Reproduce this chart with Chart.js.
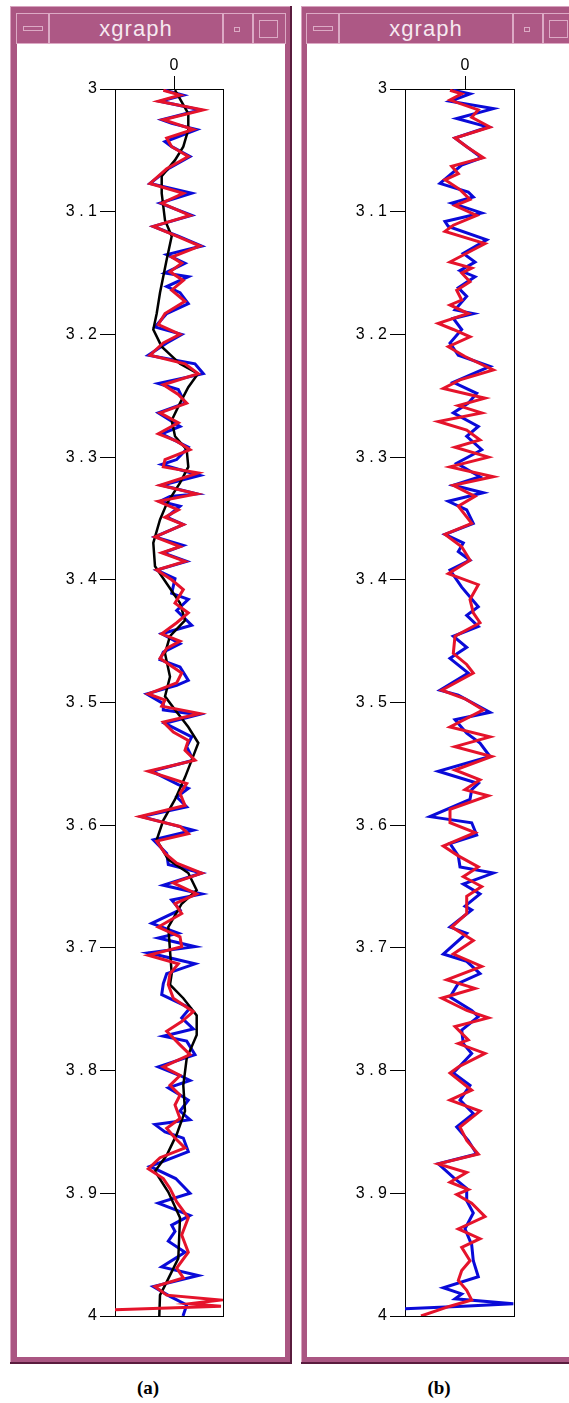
<!DOCTYPE html>
<html>
<head>
<meta charset="utf-8">
<script src="https://cdn.jsdelivr.net/npm/chart.js@4.4.1/dist/chart.umd.min.js"></script>
<style>
    body { margin: 0; background: #fff; width: 569px; height: 1403px; position: relative; overflow: hidden; }
    .win { position: absolute; top: 6px; height: 1358px; background: #aa5682; box-shadow: inset -2px -2px 0 #5a1c3e, inset 1px 1px 0 #d7a2be; }
    .tb { position: absolute; top: 7px; height: 31px; box-sizing: border-box; border: 1px solid #dcaac5; background: #ad5885; }
    .title { color: #f6e8f0; font: 22px "Liberation Sans", Arial, sans-serif; letter-spacing: 1px; text-align: center; line-height: 30px; }
    .minus { position: absolute; left: 6px; top: 12px; width: 20px; height: 5px; box-sizing: border-box; border: 1px solid #dcaac5; }
    .dot { position: absolute; left: 10px; top: 13px; width: 6px; height: 5px; box-sizing: border-box; border: 1px solid #dcaac5; }
    .sq { position: absolute; left: 5px; top: 6px; width: 19px; height: 18px; box-sizing: border-box; border: 1px solid #dcaac5; }
    .client { position: absolute; top: 38px; height: 1313px; background: #fff; }
    .cap { position: absolute; top: 1377px; width: 60px; text-align: center; font: bold 19px "Liberation Serif", "Times New Roman", serif; }
</style>
</head>
<body>
<div class="win" style="left:10px;width:282px">
    <div class="tb" style="left:6px;width:33px"><div class="minus"></div></div>
    <div class="tb title" style="left:39px;width:174px">xgraph</div>
    <div class="tb" style="left:213px;width:30px"><div class="dot"></div></div>
    <div class="tb" style="left:243px;width:33px"><div class="sq"></div></div>
    <div class="client" style="left:7px;width:268px"><canvas id="chartA" width="268" height="1313"></canvas></div>
</div>
<div class="win" style="left:301px;width:300px">
    <div class="tb" style="left:5px;width:33px"><div class="minus"></div></div>
    <div class="tb title" style="left:38px;width:174px">xgraph</div>
    <div class="tb" style="left:212px;width:30px"><div class="dot"></div></div>
    <div class="tb" style="left:242px;width:33px"><div class="sq"></div></div>
    <div class="client" style="left:6px;width:262px"><canvas id="chartB" width="262" height="1313"></canvas></div>
</div>
<div class="cap" style="left:118px">(a)</div>
<div class="cap" style="left:409px">(b)</div>

<script>
// axis ticks
const yTickValues = [3, 3.1, 3.2, 3.3, 3.4, 3.5, 3.6, 3.7, 3.8, 3.9, 4];
const yTickLabels = ['3', '3.1', '3.2', '3.3', '3.4', '3.5', '3.6', '3.7', '3.8', '3.9', '4'];
const xTickValues = [0];
const xTickLabels = ['0'];

// panel (a): blue trace
const aBlueDepth = [3.001, 3.005, 3.010, 3.017, 3.025, 3.028, 3.033, 3.043, 3.047, 3.055, 3.065, 3.077, 3.085, 3.093, 3.103, 3.112, 3.120, 3.128, 3.135, 3.142, 3.150, 3.153, 3.161, 3.166, 3.175, 3.183, 3.194, 3.200, 3.207, 3.217, 3.224, 3.232,
    3.240, 3.245, 3.256, 3.264, 3.275, 3.281, 3.292, 3.302, 3.306, 3.315, 3.323, 3.330, 3.332, 3.336, 3.340, 3.349, 3.355, 3.365, 3.372, 3.378, 3.385, 3.392, 3.399, 3.411, 3.416, 3.425, 3.437, 3.444, 3.452, 3.459, 3.465, 3.471,
    3.482, 3.486, 3.493, 3.501, 3.506, 3.510, 3.517, 3.528, 3.536, 3.547, 3.556, 3.567, 3.570, 3.577, 3.585, 3.593, 3.604, 3.612, 3.623, 3.632, 3.639, 3.649, 3.656, 3.661, 3.669, 3.680, 3.688, 3.692, 3.699, 3.704, 3.713, 3.721, 3.729,
    3.738, 3.749, 3.757, 3.766, 3.772, 3.776, 3.787, 3.797, 3.804, 3.808, 3.814, 3.824, 3.833, 3.840, 3.844, 3.850, 3.855, 3.866, 3.874, 3.878, 3.888, 3.900, 3.908, 3.918, 3.926, 3.931, 3.939, 3.948, 3.960, 3.967, 3.976, 3.984, 3.991, 4.000];
const aBlueAmp = [-9, 9.3, -14, 26, -12.3, -2.3, 22.7, -9, -2.3, 16, -5.7, -24, 17.7, -14, 17.7, -20.7, 4.3, 27.7, -7.3, 11, -9, 14.3, -7.3, 6, 14.3, -7.3, -19, 7.7, -7.3, -25.7, 21, 29.3,
    -15.7, 4.3, 11, -15.7, 6, -12.3, 14.3, 2.7, -12.3, 26, -12.3, 22.7, -4, -14, 6, -7.3, 9.3, -19, 9.3, -10.7, 12.7, -17.3, 1, -2.3, 14.3, 2.7, 17.7, -12.3, 6, -10.7, -14, 6,
    14.3, 2.7, -27.3, -10.7, -10.7, 24.3, -9, 17.7, 12.7, 19.3, -22.3, 4.3, 14.3, 2.7, 12.7, -32.3, 19.3, -20.7, -7.3, -5.7, 27.7, -10.7, 27.7, -2.3, 6, -22.3, 4.3, -15.7, 21, -25.7, 21, -7.3, -10.7,
    -12.3, 16, 7.7, 19.3, -10.7, 12.7, 21, -15.7, 6, 16, -5.7, 14.3, 6, 16, -19, -9, 9.3, 14.3, -10.7, -24, 1.7, 16, -15.7, 16, -2.3, 1, -5.7, 11, -12.3, 24.3, -20.7, -4, 12.7, 9];

// panel (a): red trace
const aRedDepth = [3.001, 3.005, 3.010, 3.017, 3.025, 3.033, 3.040, 3.047, 3.055, 3.065, 3.077, 3.085, 3.093, 3.103, 3.112, 3.120, 3.128, 3.137, 3.142, 3.149, 3.156, 3.164, 3.173, 3.183, 3.192, 3.200, 3.207, 3.217, 3.224, 3.232,
    3.241, 3.249, 3.256, 3.264, 3.272, 3.281, 3.287, 3.294, 3.302, 3.308, 3.313, 3.323, 3.330, 3.336, 3.343, 3.349, 3.355, 3.365, 3.373, 3.378, 3.385, 3.392, 3.400, 3.408, 3.419, 3.427, 3.435, 3.444, 3.450, 3.456, 3.464,
    3.476, 3.484, 3.493, 3.498, 3.503, 3.509, 3.516, 3.524, 3.531, 3.539, 3.547, 3.556, 3.566, 3.574, 3.584, 3.593, 3.601, 3.607, 3.613, 3.623, 3.631, 3.639, 3.647, 3.656, 3.664, 3.672, 3.683, 3.691, 3.699, 3.706, 3.713, 3.721, 3.730,
    3.741, 3.752, 3.760, 3.768, 3.779, 3.787, 3.797, 3.804, 3.812, 3.820, 3.828, 3.839, 3.847, 3.855, 3.863, 3.871, 3.880, 3.888, 3.896, 3.907, 3.920, 3.934, 3.948, 3.961, 3.969, 3.976, 3.983, 3.987, 3.990, 3.992, 3.995];
const aRedAmp = [-10.7, 6, -15.7, 29, -10.7, 19.3, -7.3, -2.3, 14.3, -7.3, -24, 9.3, -12.3, 16, -20.7, 2.7, 26, -2.3, 7.7, -4, 9.3, -2.3, 11, -9, -15.7, 6, -10.7, -24, 11, 24.3,
    -10.7, 4.3, 12.7, -14, 4.3, -15.7, 2.7, 16, -9, -10.7, 24.3, -14, 22.7, -15.7, 4.3, -9, 9.3, -19, 6, -12.3, 11, -17.3, -2.3, 9.3, 1, 14.3, 2.7, -12.3, 6, -7.3, -14,
    7.7, 2.7, -25.7, -9, -12.3, 26, -10.7, -0.7, 14.3, 11, 21, -25.7, 12.7, 6, 11, -34, 6, 14.3, -17.3, -9, 2.7, 27.7, -0.7, 22.7, 1, 7.7, -15.7, 6, 7.7, -25.7, 4.3, -4, -5.7,
    -0.7, 19.3, 7.7, -7.3, 6, 16, -10.7, 6, -4, 6, 1, 6, -7.3, 1, 11, -14, -25.7, -10.7, -4, 2.7, 14.3, 7.7, 14.3, 2.7, 9.3, -19, -7.3, 46, 16, 47, -59];

// panel (a): black smooth trace
const aBlackDepth = [3.001, 3.020, 3.033, 3.047, 3.058, 3.071, 3.085, 3.107, 3.120, 3.139, 3.166, 3.183, 3.196, 3.210, 3.224, 3.232, 3.243, 3.256, 3.270, 3.283, 3.294, 3.308, 3.321, 3.338, 3.351, 3.370, 3.389, 3.403, 3.419, 3.433, 3.446, 3.460,
    3.479, 3.495, 3.506, 3.520, 3.533, 3.547, 3.561, 3.579, 3.596, 3.612, 3.628, 3.639, 3.653, 3.664, 3.683, 3.702, 3.721, 3.730, 3.741, 3.755, 3.771, 3.790, 3.812, 3.833, 3.852, 3.869, 3.882, 3.899, 3.920, 3.953, 3.975, 3.983, 4.000];
const aBlackAmp = [1, 14.3, 14.3, 9.3, 1, -12.3, -12.3, -9, -2.3, -7.3, -14, -17.3, -20.7, -12.3, 6, 24, 14.3, 6, -2.3, 1, 12.7, 14.3, 6, -7.3, -14, -20.7, -19, -7.3, 6, 11, -4, -9,
    -4, -9, 1, 14.3, 24.3, 17.7, 11, 1, -10.7, -17.3, -5.7, 14.3, 22.7, 7.7, -5.7, -4, -2.3, -4, 9.3, 22.7, 22.7, 12.7, 9.3, 11, 2.7, -7.3, -19, -5.7, 6, 4.3, -9, -14, -14.7];

// panel (b): blue trace
const bBlueDepth = [3.001, 3.004, 3.010, 3.016, 3.024, 3.031, 3.040, 3.056, 3.062, 3.077, 3.084, 3.088, 3.093, 3.101, 3.108, 3.112, 3.123, 3.134, 3.141, 3.148, 3.153, 3.162, 3.169, 3.180, 3.183, 3.187, 3.196, 3.207, 3.217, 3.226, 3.239, 3.248, 3.256, 3.264, 3.275, 3.283, 3.294, 3.305, 3.316, 3.323,
    3.329, 3.336, 3.343, 3.354, 3.363, 3.370, 3.377, 3.384, 3.392, 3.406, 3.422, 3.429, 3.438, 3.446, 3.455, 3.464, 3.476, 3.490, 3.494, 3.508, 3.514, 3.525, 3.533, 3.544, 3.556, 3.566, 3.571, 3.579, 3.593, 3.598, 3.608, 3.615, 3.625, 3.634, 3.639, 3.648, 3.656, 3.666,
    3.669, 3.683, 3.688, 3.705, 3.711, 3.721, 3.729, 3.740, 3.751, 3.756, 3.767, 3.778, 3.786, 3.802, 3.812, 3.824, 3.835, 3.846, 3.857, 3.868, 3.876, 3.887, 3.896, 3.906, 3.916, 3.929, 3.942, 3.955, 3.968, 3.977, 3.982, 3.986, 3.990, 3.992, 3.994];
const bBlueAmp = [-11.7, 5, -15, 28.3, -8.3, 23.3, -10, 16.7, -3.3, -25, 3.3, 8.3, -13.3, 16.7, -20, -16.7, 21.7, -1.7, 10, -5, 10, -6.7, 1.7, -10, 8.3, -11.7, -3.3, -15, -6.7, 25, -11.7, 11.7, 3.3, -11.7, 13.3, 1.7, 16.7, -8.3, 15, -11.7,
    18.3, -16.7, 1.7, 8.3, -20, -1.7, -6.7, 5, -15, -3.3, 13.3, 1.7, 13.3, -11.7, 1.7, -15, 3.3, -25, -6.7, 25, -10, 1.7, 15, 25, -26.7, 13.3, 6.7, 5, -35, 6.7, 11.7, -15, -6.7, -5, 28.3, -1.7, 15, 0,
    6.7, -15, 1.7, -21.7, 1.7, 15, -6.7, -15, 6.7, 13.3, -3.3, -1.7, 6.7, -11.7, 5, -5, 8.3, -8.3, 3.3, 11.7, -26.7, -11.7, 1.7, 1.7, 8.3, 0, 6.7, 8.3, 13.3, -21.7, -3.3, -10, 48.3, -2, -60];

// panel (b): red trace
const bRedDepth = [3.001, 3.004, 3.009, 3.017, 3.023, 3.031, 3.040, 3.047, 3.056, 3.063, 3.069, 3.074, 3.082, 3.090, 3.095, 3.103, 3.111, 3.116, 3.126, 3.131, 3.141, 3.146, 3.150, 3.157, 3.164, 3.172, 3.176, 3.183, 3.191, 3.196, 3.202, 3.210, 3.218, 3.229, 3.237, 3.244, 3.252, 3.258, 3.264, 3.271, 3.278, 3.286, 3.292, 3.300, 3.308, 3.316, 3.323,
    3.332, 3.340, 3.354, 3.363, 3.373, 3.384, 3.395, 3.404, 3.416, 3.427, 3.435, 3.446, 3.460, 3.469, 3.476, 3.490, 3.497, 3.506, 3.520, 3.528, 3.536, 3.544, 3.555, 3.563, 3.571, 3.576, 3.587, 3.598, 3.606, 3.617, 3.625, 3.634, 3.642, 3.650, 3.658,
    3.672, 3.683, 3.694, 3.705, 3.715, 3.726, 3.733, 3.741, 3.751, 3.757, 3.764, 3.775, 3.778, 3.786, 3.797, 3.802, 3.816, 3.824, 3.833, 3.846, 3.857, 3.868, 3.876, 3.883, 3.891, 3.897, 3.901, 3.908, 3.919, 3.929, 3.937, 3.944, 3.955, 3.963, 3.971, 3.979, 3.987, 3.992, 4.000];
const bRedAmp = [-15, -3.3, -15, 13.3, 6.7, 25, -10, 1.7, 18.3, -13.3, -6.7, -20, -5, 5, -10, 11.7, -11.7, -20, 20, 8.3, -15, 6.7, -3.3, 5, -8.3, -3.3, -15, 3.3, -26.7, -11.7, 5, -16.7, 0, 28.3, -5, -21.7, 20, -6.7, 16.7, -26.7, 1.7, 15, -10, 23.3, -15, 28.3, -11.7,
    10, -6.7, 6.7, -20, -3.3, 5, -16.7, 13.3, 5, 8.3, 15, -10, -11.7, 1.7, 8.3, -23.3, 0, 18.3, -15, 25, -10, 26.7, -10, 15, 0, 23.3, -15, -15, 10, -21.7, -6.7, 13.3, -1.7, 16.7, 1.7,
    1.7, -13.3, 8.3, -11.7, 16.7, -18.3, 10, -23.3, 1.7, 23.3, -10, 3.3, -6.7, 20, -6.7, -15, 6.7, -15, 15, -5, 1.7, 13.3, -26.7, 1.7, -15, 3.3, -8.3, 6.7, 20, -6.7, 15, -3.3, 5, -3.3, -6.7, 1.7, 6.7, -15, -44];

const xRangeA = [-59, 49];
const xRangeB = [-60, 49];

function toPoints(depths, amps) {
    return depths.map((d, i) => ({ x: amps[i], y: d }));
}

function traceDataset(depths, amps, color, width) {
    return {
        data: toPoints(depths, amps),
        borderColor: color,
        backgroundColor: color,
        borderWidth: width,
        showLine: true,
        pointRadius: 0,
        tension: 0,
    };
}

const tickFont = { family: "'Liberation Sans', Arial, sans-serif", size: 16 };

function renderPanel(canvasId, xRange, datasets, rightWidth) {
    const ctx = document.getElementById(canvasId).getContext('2d');
    return new Chart(ctx, {
        type: 'scatter',
        data: { datasets: datasets },
        options: {
            responsive: false,
            animation: false,
            devicePixelRatio: 1,
            layout: { padding: 0 },
            plugins: { legend: { display: false }, tooltip: { enabled: false } },
            scales: {
                x: {
                    type: 'linear', position: 'top', min: xRange[0], max: xRange[1],
                    afterBuildTicks: s => { s.ticks = xTickValues.map(v => ({ value: v })); },
                    afterFit: s => { s.height = 45; },
                    ticks: { callback: (v, i) => xTickLabels[i], color: '#000', font: tickFont, padding: 1, maxRotation: 0, autoSkip: false },
                    grid: { drawOnChartArea: false, tickLength: 13, color: '#000' },
                    border: { color: '#000', width: 1 }
                },
                x2: {
                    type: 'linear', position: 'bottom', min: xRange[0], max: xRange[1],
                    afterFit: s => { s.height = 41; },
                    ticks: { display: false }, grid: { display: false },
                    border: { color: '#000', width: 1 }
                },
                y: {
                    type: 'linear', position: 'left', min: 3, max: 4, reverse: true,
                    afterBuildTicks: s => { s.ticks = yTickValues.map(v => ({ value: v })); },
                    afterFit: s => { s.width = 98; },
                    ticks: { callback: (v, i) => yTickLabels[i].split('').join(' '), color: '#000', font: tickFont, padding: 3, autoSkip: false },
                    grid: { drawOnChartArea: false, tickLength: 15, color: '#000' },
                    border: { color: '#000', width: 1 }
                },
                y2: {
                    type: 'linear', position: 'right', min: 3, max: 4, reverse: true,
                    afterFit: s => { s.width = rightWidth; },
                    ticks: { display: false }, grid: { display: false },
                    border: { color: '#000', width: 1 }
                }
            }
        }
    });
}

window.addEventListener('DOMContentLoaded', () => {
    renderPanel('chartA', xRangeA, [
        traceDataset(aRedDepth, aRedAmp, '#e5132b', 3),
        traceDataset(aBlackDepth, aBlackAmp, '#000000', 2.5),
        traceDataset(aBlueDepth, aBlueAmp, '#0a0ad8', 3),
    ], 62);
    renderPanel('chartB', xRangeB, [
        traceDataset(bRedDepth, bRedAmp, '#e5132b', 3),
        traceDataset(bBlueDepth, bBlueAmp, '#0a0ad8', 3),
    ], 55);
});
</script>
</body>
</html>
